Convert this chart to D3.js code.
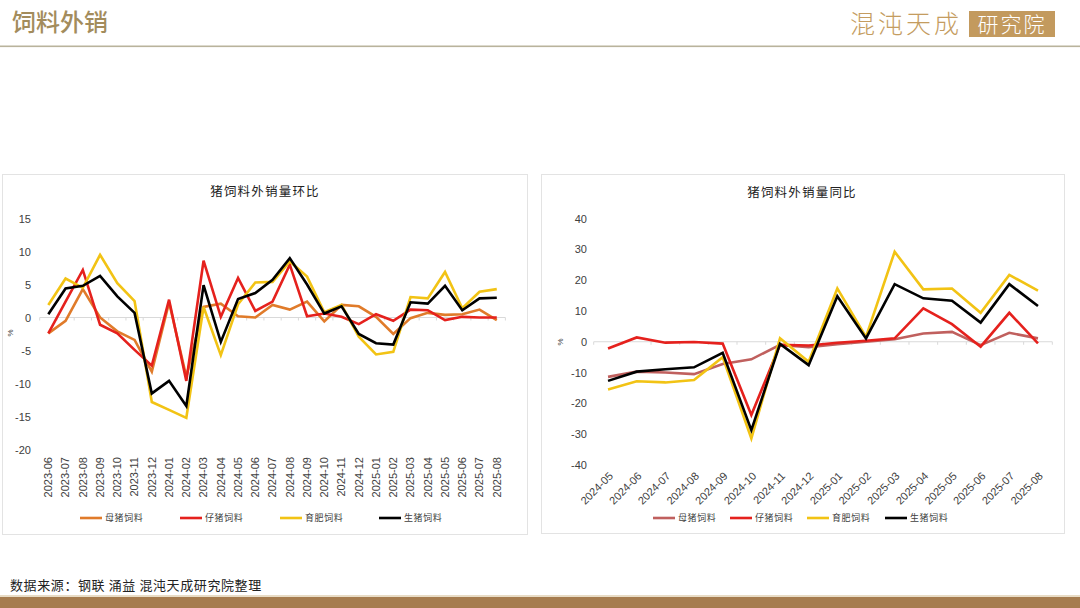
<!DOCTYPE html>
<html><head><meta charset="utf-8">
<script src="https://cdn.jsdelivr.net/npm/d3@7"></script>
<style>
html,body{margin:0;padding:0;background:#fff;}
svg{display:block;font-family:"Liberation Sans",Arial,sans-serif;}
.cjk{font-family:"Noto Sans CJK SC","Noto Sans",sans-serif;}
</style></head>
<body>
<svg id="c" width="1080" height="608"></svg>
<script>
// ---------- DATA ----------
const seriesNames = ["母猪饲料","仔猪饲料","育肥饲料","生猪饲料"];
const momMonths = ["2023-06","2023-07","2023-08","2023-09","2023-10","2023-11","2023-12","2024-01","2024-02","2024-03","2024-04","2024-05","2024-06","2024-07","2024-08","2024-09","2024-10","2024-11","2024-12","2025-01","2025-02","2025-03","2025-04","2025-05","2025-06","2025-07","2025-08"];
const momSow    = [-2.4,-0.5,4.3,0.0,-2.1,-3.4,-8.2,2.3,-9.0,1.6,2.1,0.2,0.0,1.9,1.2,2.4,-0.6,1.9,1.7,0.1,-2.5,-0.1,0.7,0.4,0.5,1.2,-0.4];
const momPiglet = [-2.4,2.4,7.2,-1.1,-2.4,-4.9,-7.3,2.7,-9.6,8.6,0.1,6.0,1.0,2.4,8.0,0.2,0.6,0.1,-1.0,0.5,-0.5,1.2,1.1,-0.4,0.1,0.0,0.0];
const momFatten = [1.9,5.9,4.5,9.5,5.2,2.5,-12.8,-14.0,-15.2,1.6,-5.7,2.0,5.3,5.4,8.5,6.2,0.8,1.9,-2.9,-5.6,-5.2,3.1,2.9,6.9,1.4,3.9,4.3];
const momHog    = [0.5,4.4,4.8,6.3,3.2,0.7,-11.5,-9.6,-13.4,4.9,-3.7,2.8,3.7,5.7,9.0,5.0,0.6,1.7,-2.5,-3.9,-4.1,2.3,2.1,4.8,1.1,2.9,3.0];
const momTicks  = [15,10,5,0,-5,-10,-15,-20];

const yoyMonths = ["2024-05","2024-06","2024-07","2024-08","2024-09","2024-10","2024-11","2024-12","2025-01","2025-02","2025-03","2025-04","2025-05","2025-06","2025-07","2025-08"];
const yoySow    = [-11.4,-9.7,-10.0,-10.5,-7.2,-5.7,-1.0,-1.8,-0.8,0.0,0.8,2.7,3.2,-1.1,2.9,1.1];
const yoyPiglet = [-2.2,1.4,-0.3,-0.1,-0.6,-23.8,-1.0,-1.2,-0.3,0.3,1.1,10.8,5.7,-1.6,9.4,-0.5];
const yoyFatten = [-15.5,-12.8,-13.2,-12.4,-5.0,-31.4,1.1,-6.5,17.3,1.6,29.2,17.0,17.3,9.4,21.7,16.6];
const yoyHog    = [-12.7,-9.7,-8.9,-8.3,-3.6,-28.7,-0.7,-7.6,14.8,1.1,18.7,14.1,13.3,6.2,18.7,11.6];
const yoyTicks  = [40,30,20,10,0,-10,-20,-30,-40];

// ---------- STYLE ----------
const momColors = ["#E07B2A","#E5211D","#F2C314","#000000"];
const yoyColors = ["#C0605E","#E5211D","#F2C314","#000000"];

const svg = d3.select("#c");

// Header
svg.append("text").attr("class","cjk").attr("x",12).attr("y",31)
  .attr("font-size",24).attr("font-weight",500).attr("fill","#A38C5C").text("饲料外销");
svg.append("rect").attr("x",0).attr("y",45.5).attr("width",1080).attr("height",1.6).attr("fill","#B9B39C");
// Logo
svg.append("text").attr("class","cjk").attr("x",906).attr("y",33).attr("text-anchor","middle")
  .attr("font-size",25).attr("font-weight",300).attr("fill","#C49C60").attr("letter-spacing",3).text("混沌天成");
svg.append("rect").attr("x",969).attr("y",11).attr("width",86).attr("height",26).attr("fill","#C39A5E");
svg.append("text").attr("class","cjk").attr("x",1012).attr("y",32).attr("text-anchor","middle")
  .attr("font-size",21).attr("font-weight",300).attr("fill","#fff").attr("letter-spacing",2).text("研究院");

// Footer
svg.append("text").attr("class","cjk").attr("x",10).attr("y",590)
  .attr("font-size",13).attr("fill","#222").attr("letter-spacing",0.6).text("数据来源：钢联 涌益 混沌天成研究院整理");
svg.append("rect").attr("x",0).attr("y",595).attr("width",1080).attr("height",2).attr("fill","#E8DCC6");
svg.append("rect").attr("x",0).attr("y",597).attr("width",1080).attr("height",11).attr("fill","#A67C4F");

function drawChart(cfg){
  const g = svg.append("g");
  g.append("rect").attr("x",cfg.panel[0]).attr("y",cfg.panel[1]).attr("width",cfg.panel[2]).attr("height",cfg.panel[3])
    .attr("fill","#fff").attr("stroke","#E3E3E3").attr("stroke-width",1);
  g.append("text").attr("class","cjk").attr("x",cfg.titleX).attr("y",cfg.titleY).attr("text-anchor","middle")
    .attr("font-size",12.5).attr("fill","#222").attr("letter-spacing",1.2).text(cfg.title);

  const x = d3.scaleBand().domain(cfg.months).range(cfg.xRange);
  const y = d3.scaleLinear().domain(cfg.yDomain).range(cfg.yRange);
  const cx = m => x(m) + x.bandwidth()/2;

  // y tick labels
  const yAxis = d3.axisLeft(y).tickValues(cfg.ticks).tickSize(0).tickPadding(0).tickFormat(d=>d);
  const ya = g.append("g").attr("transform",`translate(${cfg.yLabelX},0)`).call(yAxis);
  ya.select(".domain").remove();
  ya.selectAll("text").attr("font-size",11).attr("fill","#404040").attr("font-family","Liberation Sans, Arial, sans-serif");

  // % label
  g.append("text").attr("x",cfg.pctPos[0]).attr("y",cfg.pctPos[1]).attr("font-size",8).attr("fill","#404040")
    .attr("text-anchor","middle").attr("transform",`rotate(-90,${cfg.pctPos[0]},${cfg.pctPos[1]})`).attr("dy","0.35em").text("%");

  // zero line with category ticks
  const y0 = y(0);
  g.append("line").attr("x1",cfg.xRange[0]).attr("x2",cfg.xRange[1]).attr("y1",y0).attr("y2",y0)
    .attr("stroke","#D9D9D9").attr("stroke-width",1);
  const bounds = cfg.months.map(m=>x(m)).concat([cfg.xRange[1]]);
  g.selectAll(".tk").data(bounds).enter().append("line")
    .attr("x1",d=>d).attr("x2",d=>d).attr("y1",y0).attr("y2",y0+3).attr("stroke","#D9D9D9");

  // x labels
  const xl = g.selectAll(".xl").data(cfg.months).enter().append("text")
    .attr("font-size",11).attr("fill","#404040").attr("text-anchor","end").attr("dy","0.35em");
  if (cfg.rot === -90){
    xl.attr("x",d=>cx(d)).attr("y",cfg.xLabelY).attr("transform",d=>`rotate(-90,${cx(d)},${cfg.xLabelY})`);
  } else {
    xl.attr("x",d=>cx(d)+3).attr("y",cfg.xLabelY).attr("transform",d=>`rotate(-45,${cx(d)+3},${cfg.xLabelY})`);
  }
  xl.text(d=>d);

  // lines
  const line = d3.line().x((d,i)=>cx(cfg.months[i])).y(d=>y(d));
  cfg.series.forEach((s,i)=>{
    g.append("path").datum(s).attr("d",line).attr("fill","none").attr("stroke",cfg.colors[i])
      .attr("stroke-width",2.6).attr("stroke-linejoin","miter").attr("stroke-miterlimit",4);
  });

  // legend
  seriesNames.forEach((n,i)=>{
    const lx = cfg.legendX[i];
    g.append("line").attr("x1",lx).attr("x2",lx+22).attr("y1",cfg.legendY).attr("y2",cfg.legendY)
      .attr("stroke",cfg.colors[i]).attr("stroke-width",2.6);
    g.append("text").attr("class","cjk").attr("x",lx+25).attr("y",cfg.legendY).attr("dy","0.35em")
      .attr("font-size",9).attr("fill","#404040").attr("letter-spacing",0.6).text(n);
  });
}

drawChart({
  panel:[2.5,174.5,525,360], title:"猪饲料外销量环比", titleX:265, titleY:196,
  months:momMonths, xRange:[39.7,505.4], yDomain:[15,-20], yRange:[218.5,449.5], ticks:momTicks,
  yLabelX:31, pctPos:[10,333], xLabelY:457, rot:-90,
  series:[momSow,momPiglet,momFatten,momHog], colors:momColors,
  legendX:[80,180,280,379], legendY:518
});
drawChart({
  panel:[541.5,174.5,523,359], title:"猪饲料外销量同比", titleX:802, titleY:197,
  months:yoyMonths, xRange:[593.7,1052.3], yDomain:[40,-40], yRange:[218.5,465], ticks:yoyTicks,
  yLabelX:587, pctPos:[560,342], xLabelY:474, rot:-45,
  series:[yoySow,yoyPiglet,yoyFatten,yoyHog], colors:yoyColors,
  legendX:[653,730,807,885], legendY:518
});
</script>
</body></html>
